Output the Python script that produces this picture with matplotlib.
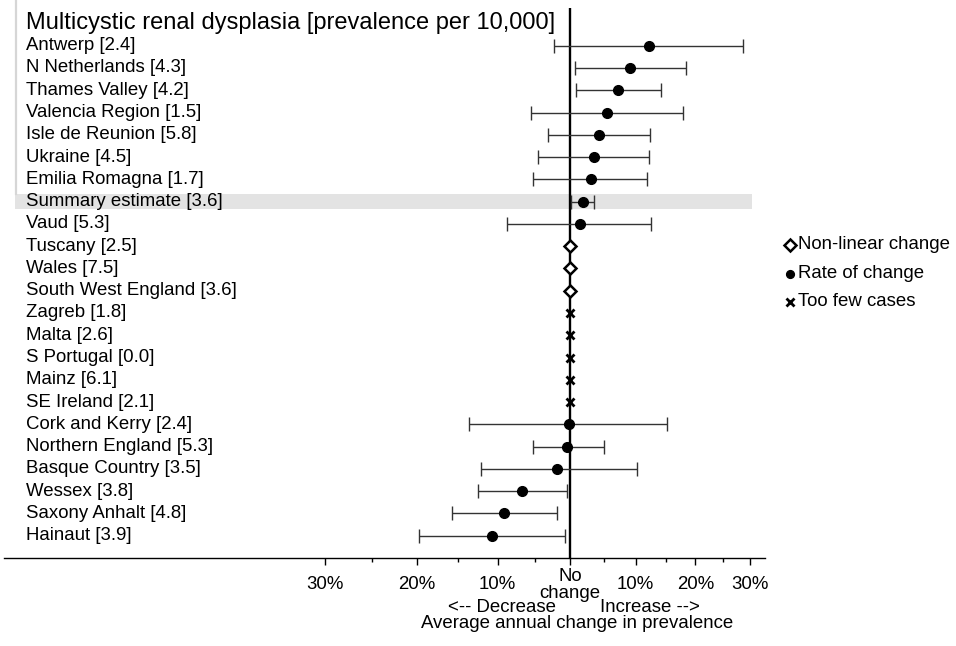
import numpy as np
import matplotlib
matplotlib.use("Agg")
import matplotlib.pyplot as plt
from matplotlib.lines import Line2D

plt.rcParams['font.family'] = ['Liberation Sans', 'DejaVu Sans']

# ---------------- data ----------------
regions = ["Antwerp", "N Netherlands", "Thames Valley", "Valencia Region",
           "Isle de Reunion", "Ukraine", "Emilia Romagna", "Summary estimate",
           "Vaud", "Tuscany", "Wales", "South West England", "Zagreb", "Malta",
           "S Portugal", "Mainz", "SE Ireland", "Cork and Kerry",
           "Northern England", "Basque Country", "Wessex", "Saxony Anhalt",
           "Hainaut"]
prevalence = [2.4, 4.3, 4.2, 1.5, 5.8, 4.5, 1.7, 3.6, 5.3, 2.5, 7.5, 3.6,
              1.8, 2.6, 0.0, 6.1, 2.1, 2.4, 5.3, 3.5, 3.8, 4.8, 3.9]
# 'rate' = rate of change, 'nonlin' = non-linear change, 'few' = too few cases
kind = ["rate", "rate", "rate", "rate", "rate", "rate", "rate", "rate",
        "rate", "nonlin", "nonlin", "nonlin", "few", "few", "few", "few",
        "few", "rate", "rate", "rate", "rate", "rate", "rate"]
# average annual change (%), with 95% CI
change = [12.1, 9.1, 7.3, 5.6, 4.3, 3.5, 3.1, 1.9, 1.4, 0.0, 0.0, 0.0,
          0.0, 0.0, 0.0, 0.0, 0.0, -0.2, -0.4, -1.8, -6.8, -9.1, -10.7]
ci_low = [-2.3, 0.7, 0.9, -5.5, -3.2, -4.5, -5.2, 0.1, -8.7, np.nan, np.nan,
          np.nan, np.nan, np.nan, np.nan, np.nan, np.nan, -13.6, -5.3, -12.2,
          -12.5, -15.8, -19.7]
ci_high = [28.6, 18.4, 14.1, 17.8, 12.3, 12.2, 11.9, 3.6, 12.5, np.nan, np.nan,
           np.nan, np.nan, np.nan, np.nan, np.nan, np.nan, 15.2, 5.0, 10.2,
           -0.5, -1.9, -0.7]
major_ticks = [-30, -20, -10, 0, 10, 20, 30]
major_labels = ["30%", "20%", "10%", "No\nchange", "10%", "20%", "30%"]
minor_ticks = [-25, -15, -5, 5, 15, 25]
title = "Multicystic renal dysplasia [prevalence per 10,000]"
legend_labels = ["Non-linear change", "Rate of change", "Too few cases"]

# ---------------- figure ----------------
W, H = 956, 646
fig = plt.figure(figsize=(W / 100, H / 100), dpi=100)

ax_left, ax_right = 4, 765
ax_top, ax_bottom = 8, 558.3
ax = fig.add_axes([ax_left / W, 1 - ax_bottom / H,
                   (ax_right - ax_left) / W, (ax_bottom - ax_top) / H])

fwd = lambda x: np.log1p(np.asarray(x, dtype=float) / 100.0)
inv = lambda y: np.expm1(np.asarray(y, dtype=float)) * 100.0
ax.set_xscale('function', functions=(fwd, inv))
ax.set_xlim(-56.1, 32.8)
n = len(regions)
ax.set_ylim(n - 1 + 1.015, -1.693)

ch = np.array(change, dtype=float)
lo = np.array(ci_low, dtype=float)
hi = np.array(ci_high, dtype=float)
kinds = np.array(kind)
ypos = np.arange(n)

# summary band
ax.axhspan(6.67, 7.33, xmin=(15 - ax_left) / (ax_right - ax_left),
           xmax=(752 - ax_left) / (ax_right - ax_left),
           color='#e3e3e3', zorder=0, lw=0)
fig.add_artist(Line2D([15.5 / W, 15.5 / W], [1.0, 1 - 194 / H],
                      color='#d6d6d6', lw=1.6))

# zero line
ax.axvline(0, color='black', lw=1.7, zorder=2)

# error bars + rate points
m = kinds == "rate"
ax.errorbar(ch[m], ypos[m], xerr=[ch[m] - lo[m], hi[m] - ch[m]], fmt='none',
            ecolor='#333333', elinewidth=1.0, capsize=5, capthick=1.0, zorder=3)
ax.plot(ch[m], ypos[m], 'o', color='black', ms=7, zorder=4)
m = kinds == "nonlin"
ax.plot(ch[m], ypos[m], 'D', mfc='white', mec='black', mew=1.8, ms=6.2, zorder=4)
m = kinds == "few"
ax.plot(ch[m], ypos[m], 'x', color='black', mew=2.0, ms=6, zorder=4)

# row labels
fs = 13.4
for i, (r, p) in enumerate(zip(regions, prevalence)):
    ax.text((26 - ax_left) / (ax_right - ax_left), i, f"{r} [{p:.1f}]",
            transform=ax.get_yaxis_transform(), va='center', ha='left',
            fontsize=fs)

fig.text(26 / W, 1 - 23 / H, title, fontsize=17, va='center', ha='left')

# axes styling
for s in ['top', 'right', 'left']:
    ax.spines[s].set_visible(False)
ax.spines['bottom'].set_linewidth(1.0)
ax.set_yticks([])
ax.set_xticks(major_ticks)
ax.set_xticklabels(major_labels, fontsize=fs)
ax.set_xticks(minor_ticks, minor=True)
ax.tick_params(axis='x', which='major', length=4.8, width=1.0, pad=14.4)
ax.tick_params(axis='x', which='minor', length=3.0, width=1.0)
for lab in ax.get_xticklabels():
    lab.set_verticalalignment('center')
    lab.set_linespacing(0.95)

fig.text(502 / W, 1 - 607 / H, "<-- Decrease", fontsize=fs, ha='center', va='center')
fig.text(650 / W, 1 - 607 / H, "Increase -->", fontsize=fs, ha='center', va='center')
fig.text(577.5 / W, 1 - 623 / H, "Average annual change in prevalence",
         fontsize=fs, ha='center', va='center')

# legend (manual)
leg_y = [245, 273.5, 301.5]
leg_markers = [dict(marker='D', mfc='white', mec='black', mew=1.8, ms=6.0),
               dict(marker='o', color='black', ms=5.6),
               dict(marker='x', color='black', mew=2.0, ms=5.8)]
for yy, lab, mk in zip(leg_y, legend_labels, leg_markers):
    fig.add_artist(Line2D([790 / W], [1 - yy / H], linestyle='none', **mk))
    fig.text(798 / W, 1 - yy / H, lab, fontsize=fs, va='center', ha='left')

fig.savefig("out.png", dpi=100)
